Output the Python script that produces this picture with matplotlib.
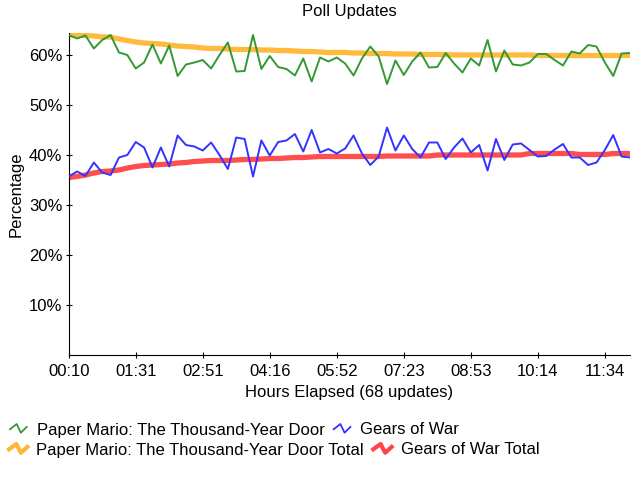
import matplotlib
matplotlib.use("Agg")
import matplotlib.pyplot as plt
from matplotlib.lines import Line2D
from matplotlib.legend_handler import HandlerBase
from matplotlib.ticker import FuncFormatter
import numpy as np

plt.rcParams['font.family'] = ['Liberation Sans', 'DejaVu Sans']

tick_labels = ["00:10", "01:31", "02:51", "04:16", "05:52", "07:23", "08:53", "10:14", "11:34"]
tick_step = 8

pm = [64.0, 63.3, 63.9, 61.3, 63.0, 64.0, 60.5, 60.0, 57.3, 58.5,
      62.1, 58.3, 61.9, 55.8, 58.1, 58.5, 59.0, 57.3, 60.0, 62.5,
      56.7, 56.8, 64.0, 57.2, 59.8, 57.6, 57.2, 55.9, 59.3, 54.7,
      59.5, 58.7, 59.5, 58.3, 55.9, 59.3, 61.7, 59.7, 54.2, 58.9,
      56.0, 58.7, 60.5, 57.5, 57.6, 60.4, 58.3, 56.5, 59.3, 57.9,
      63.0, 56.7, 60.9, 58.1, 57.9, 58.5, 60.2, 60.2, 59.0, 57.9,
      60.7, 60.3, 62.0, 61.7, 58.5, 55.8, 60.3, 60.4]
gow = [35.7, 36.7, 35.8, 38.5, 36.5, 36.0, 39.5, 40.0, 42.6, 41.5,
       37.5, 41.5, 37.7, 43.9, 42.0, 41.7, 40.9, 42.5, 40.0, 37.2,
       43.5, 43.2, 35.7, 42.9, 39.9, 42.6, 42.9, 44.2, 40.7, 45.0,
       40.5, 41.2, 40.3, 41.3, 43.9, 40.3, 38.0, 39.7, 45.5, 40.9,
       43.9, 41.2, 39.5, 42.5, 42.5, 39.2, 41.5, 43.3, 40.5, 42.0,
       36.9, 43.2, 39.0, 42.1, 42.3, 41.0, 39.7, 39.8, 41.1, 42.2,
       39.5, 39.5, 38.0, 38.5, 41.0, 44.0, 39.7, 39.5]
pm_total = [64.0, 64.0, 63.9, 63.8, 63.6, 63.6, 63.2, 62.9, 62.6, 62.4,
            62.3, 62.2, 62.0, 61.8, 61.7, 61.6, 61.4, 61.3, 61.3, 61.2,
            61.1, 61.1, 61.1, 61.0, 61.0, 60.9, 60.9, 60.8, 60.7, 60.7,
            60.6, 60.5, 60.5, 60.5, 60.4, 60.4, 60.3, 60.3, 60.3, 60.2,
            60.2, 60.2, 60.1, 60.1, 60.1, 60.1, 60.0, 60.0, 60.0, 60.0,
            60.0, 60.0, 60.0, 60.0, 60.0, 60.0, 59.9, 59.9, 59.9, 59.9,
            59.9, 59.9, 59.9, 59.9, 59.9, 59.9, 59.9, 59.9]
gow_total = [35.5, 35.7, 36.0, 36.4, 36.7, 36.8, 37.0, 37.4, 37.7, 37.9,
             38.0, 38.1, 38.2, 38.4, 38.5, 38.7, 38.8, 38.9, 38.9, 38.9,
             39.0, 39.1, 39.1, 39.2, 39.3, 39.3, 39.4, 39.5, 39.5, 39.6,
             39.7, 39.7, 39.7, 39.7, 39.7, 39.7, 39.7, 39.7, 39.8, 39.8,
             39.8, 39.8, 39.8, 39.8, 40.0, 40.0, 40.0, 40.0, 40.0, 40.0,
             40.0, 40.0, 40.0, 40.0, 40.0, 40.3, 40.3, 40.3, 40.3, 40.3,
             40.3, 40.1, 40.1, 40.1, 40.1, 40.3, 40.3, 40.3]

names = ["Paper Mario: The Thousand-Year Door", "Gears of War",
         "Paper Mario: The Thousand-Year Door Total", "Gears of War Total"]
colors = ["#339933", "#3333ff", "#ffb733", "#ff4444"]

FS = 12
x = np.arange(len(pm))

fig = plt.figure(figsize=(6.4, 4.8), dpi=100)
ax = fig.add_axes([68.7/640, 1 - 355/480, (630 - 68.7)/640, (355 - 33)/480])

ax.plot(x, pm_total, color=colors[2], lw=3.8, alpha=0.95, solid_capstyle='butt', zorder=2)
ax.plot(x, gow_total, color=colors[3], lw=3.8, alpha=0.95, solid_capstyle='butt', zorder=2)
ax.plot(x, pm, color=colors[0], lw=1.4, zorder=3)
ax.plot(x, gow, color=colors[1], lw=1.4, zorder=3)

ax.set_xlim(0, len(pm) - 1)
ax.set_ylim(0, 64.4)
ax.set_xticks(np.arange(0, len(pm), tick_step)[:len(tick_labels)])
ax.set_xticklabels(tick_labels)
ax.set_yticks([10, 20, 30, 40, 50, 60])
ax.yaxis.set_major_formatter(FuncFormatter(lambda v, p: f"{int(v)}%"))
for s in ['top', 'right']:
    ax.spines[s].set_visible(False)
ax.tick_params(axis='both', direction='inout', length=5, width=0.8, labelsize=FS, pad=2)
ax.tick_params(axis='x', pad=4)
ax.set_title("Poll Updates", fontsize=FS, pad=12)
ax.set_xlabel("Hours Elapsed (68 updates)", fontsize=FS, labelpad=4)
ax.set_ylabel("Percentage", fontsize=FS, labelpad=4)


class ZigZag(HandlerBase):
    def __init__(self, lw, **kw):
        super().__init__(**kw)
        self.lw = lw

    def create_artists(self, legend, orig_handle, xdescent, ydescent, width, height, fontsize, trans):
        xs = np.array([0.0, 0.4, 0.65, 1.0]) * width - xdescent
        ys = np.array([0.45, 0.9, 0.15, 0.65]) * height - ydescent
        ln = Line2D(xs, ys, color=orig_handle.get_color(), lw=self.lw, transform=trans)
        return [ln]


h = [Line2D([], [], color=c) for c in colors]
fig.legend([h[0], h[1]], [names[0], names[1]], loc='center left',
           bbox_to_anchor=(10/640, 1 - 430/480), ncol=2, frameon=False,
           prop={'size': FS}, borderpad=0, borderaxespad=0, handlelength=1.0,
           handletextpad=0.6, columnspacing=0.55,
           handler_map={h[0]: ZigZag(1.3), h[1]: ZigZag(1.3)})
fig.legend([h[2], h[3]], [names[2], names[3]], loc='center left',
           bbox_to_anchor=(9/640, 1 - 450/480), ncol=2, frameon=False,
           prop={'size': FS}, borderpad=0, borderaxespad=0, handlelength=1.1,
           handletextpad=0.55, columnspacing=0.55,
           handler_map={h[2]: ZigZag(3.0), h[3]: ZigZag(3.0)})

fig.savefig("out.png", dpi=100)
